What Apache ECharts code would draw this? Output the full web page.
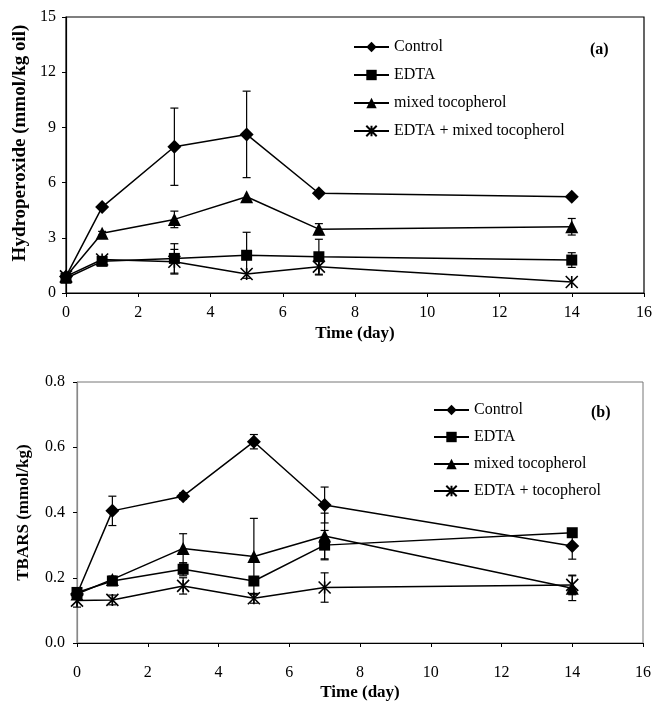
<!DOCTYPE html>
<html>
<head>
<meta charset="utf-8">
<script src="https://cdn.jsdelivr.net/npm/echarts@6/dist/echarts.min.js"></script>
<style>
html, body { margin: 0; padding: 0; background: #fff; }
#chart { width: 655px; height: 715px; }
</style>
</head>
<body>
<div id="chart"></div>
<script>
// sampling days
var days = [0, 1, 3, 5, 7, 14]

// (a) hydroperoxide, mmol/kg oil
var hpControl = [0.9, 4.67, 7.95, 8.62, 5.42, 5.23]
var hpControlErr = [0, 0, 2.1, 2.35, 0, 0]
var hpEdta = [0.8, 1.72, 1.88, 2.05, 1.97, 1.79]
var hpEdtaErr = [0, 0, 0.8, 1.25, 0.95, 0.4]
var hpToco = [0.9, 3.25, 4.0, 5.23, 3.47, 3.6]
var hpTocoErr = [0, 0.1, 0.45, 0, 0.3, 0.45]
var hpEdtaToco = [0.9, 1.82, 1.7, 1.03, 1.43, 0.6]
var hpEdtaTocoErr = [0, 0, 0.67, 0, 0.45, 0]

// (b) TBARS, mmol/kg
var tbControl = [0.15, 0.405, 0.45, 0.617, 0.423, 0.297]
var tbControlErr = [0.01, 0.045, 0.01, 0.022, 0.055, 0.04]
var tbEdta = [0.155, 0.19, 0.226, 0.19, 0.30, 0.338]
var tbEdtaErr = [0.01, 0.01, 0.02, 0.01, 0.045, 0.01]
var tbToco = [0.15, 0.195, 0.29, 0.265, 0.328, 0.168]
var tbTocoErr = [0.01, 0.01, 0.045, 0.117, 0.07, 0.038]
var tbEdtaToco = [0.13, 0.132, 0.175, 0.137, 0.17, 0.178]
var tbEdtaTocoErr = [0.02, 0.015, 0.025, 0.015, 0.045, 0.03]

var namesA = ['Control', 'EDTA', 'mixed tocopherol', 'EDTA + mixed tocopherol']
var namesB = ['Control', 'EDTA', 'mixed tocopherol', 'EDTA + tocopherol']

var FONT = 'Liberation Serif'
var asterisk = 'path://M0,0L10,10M10,0L0,10M5,0L5,10'
var symbols = ['diamond', 'rect', 'triangle', asterisk]
var symbolSizes = [14, 11, 13, 12]

function pairs (ys) {
  return days.map(function (d, i) { return [d, ys[i]] })
}

function errData (ys, es) {
  var out = []
  days.forEach(function (d, i) {
    if (es[i] > 0) out.push([d, ys[i], es[i]])
  })
  return out
}

function errRender (params, api) {
  var x = api.value(0)
  var y = api.value(1)
  var e = api.value(2)
  var hi = api.coord([x, y + e])
  var lo = api.coord([x, y - e])
  var w = 4
  var st = { stroke: '#000', lineWidth: 1.2 }
  return {
    type: 'group',
    children: [
      { type: 'line', shape: { x1: hi[0], y1: hi[1], x2: lo[0], y2: lo[1] }, style: st },
      { type: 'line', shape: { x1: hi[0] - w, y1: hi[1], x2: hi[0] + w, y2: hi[1] }, style: st },
      { type: 'line', shape: { x1: lo[0] - w, y1: lo[1], x2: lo[0] + w, y2: lo[1] }, style: st }
    ]
  }
}

function lineSeries (name, k, ys, idx) {
  var star = k === 3
  return {
    name: name,
    type: 'line',
    xAxisIndex: idx,
    yAxisIndex: idx,
    data: pairs(ys),
    symbol: symbols[k],
    symbolSize: symbolSizes[k],
    showSymbol: true,
    z: 3,
    lineStyle: { color: '#000', width: 1.5 },
    itemStyle: star
      ? { color: 'transparent', borderColor: '#000', borderWidth: 1.6 }
      : { color: '#000', borderColor: '#000', borderWidth: 0 },
    emphasis: { disabled: true },
    animation: false
  }
}

function errSeries (ys, es, idx) {
  return {
    type: 'custom',
    xAxisIndex: idx,
    yAxisIndex: idx,
    data: errData(ys, es),
    renderItem: errRender,
    z: 2,
    silent: true,
    animation: false
  }
}

function xAxis (idx, gap, margin) {
  return {
    type: 'value',
    gridIndex: idx,
    min: 0,
    max: 16,
    interval: 2,
    name: 'Time (day)',
    nameLocation: 'middle',
    nameGap: gap,
    nameTextStyle: { fontFamily: FONT, fontWeight: 'bold', fontSize: 17, color: '#000' },
    axisLine: { show: true, onZero: false, lineStyle: { color: '#000', width: 1.2 } },
    axisTick: { show: true, length: 4, lineStyle: { color: '#000' } },
    axisLabel: { fontFamily: FONT, fontSize: 16, color: '#000', margin: margin },
    splitLine: { show: false }
  }
}

function yAxis (idx, name, nameSize, shift, max, interval, gap, margin, lineColor, fmt) {
  return {
    type: 'value',
    gridIndex: idx,
    min: 0,
    max: max,
    interval: interval,
    name: name,
    nameLocation: 'middle',
    nameGap: gap,
    nameTextStyle: {
      fontFamily: FONT, fontWeight: 'bold', fontSize: nameSize, color: '#000',
      padding: [0, 0, 0, shift]
    },
    axisLine: { show: true, lineStyle: { color: lineColor, width: 1.2 } },
    axisTick: { show: true, length: 4, lineStyle: { color: '#000' } },
    axisLabel: { fontFamily: FONT, fontSize: 16, color: '#000', margin: margin, formatter: fmt },
    splitLine: { show: false }
  }
}

function legend (names, left, top, gap) {
  return {
    data: names,
    orient: 'vertical',
    left: left,
    top: top,
    padding: 0,
    itemWidth: 35,
    itemHeight: 13,
    itemGap: gap,
    selectedMode: false,
    textStyle: { fontFamily: FONT, fontSize: 16, color: '#000' }
  }
}

var chart = echarts.init(document.getElementById('chart'), null, { renderer: 'canvas' })

var option = {
  backgroundColor: '#fff',
  animation: false,
  title: [
    { text: '(a)', left: 585, top: 37, textStyle: { fontFamily: FONT, fontWeight: 'bold', fontSize: 16, color: '#000' } },
    { text: '(b)', left: 586, top: 400, textStyle: { fontFamily: FONT, fontWeight: 'bold', fontSize: 16, color: '#000' } }
  ],
  legend: [
    legend(namesA, 353, 39, 12),
    legend(namesB, 433, 402, 11)
  ],
  grid: [
    { left: 66, right: 10, top: 17, bottom: 422, show: true, borderColor: '#000', borderWidth: 1.2 },
    { left: 77, right: 12, top: 382, bottom: 72, show: true, borderColor: '#777', borderWidth: 1 }
  ],
  xAxis: [
    xAxis(0, 32, 12),
    xAxis(1, 41, 22)
  ],
  yAxis: [
    yAxis(0, 'Hydroperoxide (mmol/kg oil)', 19, 24, 15, 3, 33, 10, '#000', '{value}'),
    yAxis(1, 'TBARS (mmol/kg)', 17, 0, 0.8, 0.2, 45, 12, '#888', function (v) { return v.toFixed(1) })
  ],
  series: [
    errSeries(hpControl, hpControlErr, 0),
    errSeries(hpEdta, hpEdtaErr, 0),
    errSeries(hpToco, hpTocoErr, 0),
    errSeries(hpEdtaToco, hpEdtaTocoErr, 0),
    lineSeries(namesA[0], 0, hpControl, 0),
    lineSeries(namesA[1], 1, hpEdta, 0),
    lineSeries(namesA[2], 2, hpToco, 0),
    lineSeries(namesA[3], 3, hpEdtaToco, 0),

    errSeries(tbControl, tbControlErr, 1),
    errSeries(tbEdta, tbEdtaErr, 1),
    errSeries(tbToco, tbTocoErr, 1),
    errSeries(tbEdtaToco, tbEdtaTocoErr, 1),
    lineSeries(namesB[0], 0, tbControl, 1),
    lineSeries(namesB[1], 1, tbEdta, 1),
    lineSeries(namesB[2], 2, tbToco, 1),
    lineSeries(namesB[3], 3, tbEdtaToco, 1)
  ]
}

chart.setOption(option)
window.addEventListener('resize', function () {
  chart.resize()
})
</script>
</body>
</html>
